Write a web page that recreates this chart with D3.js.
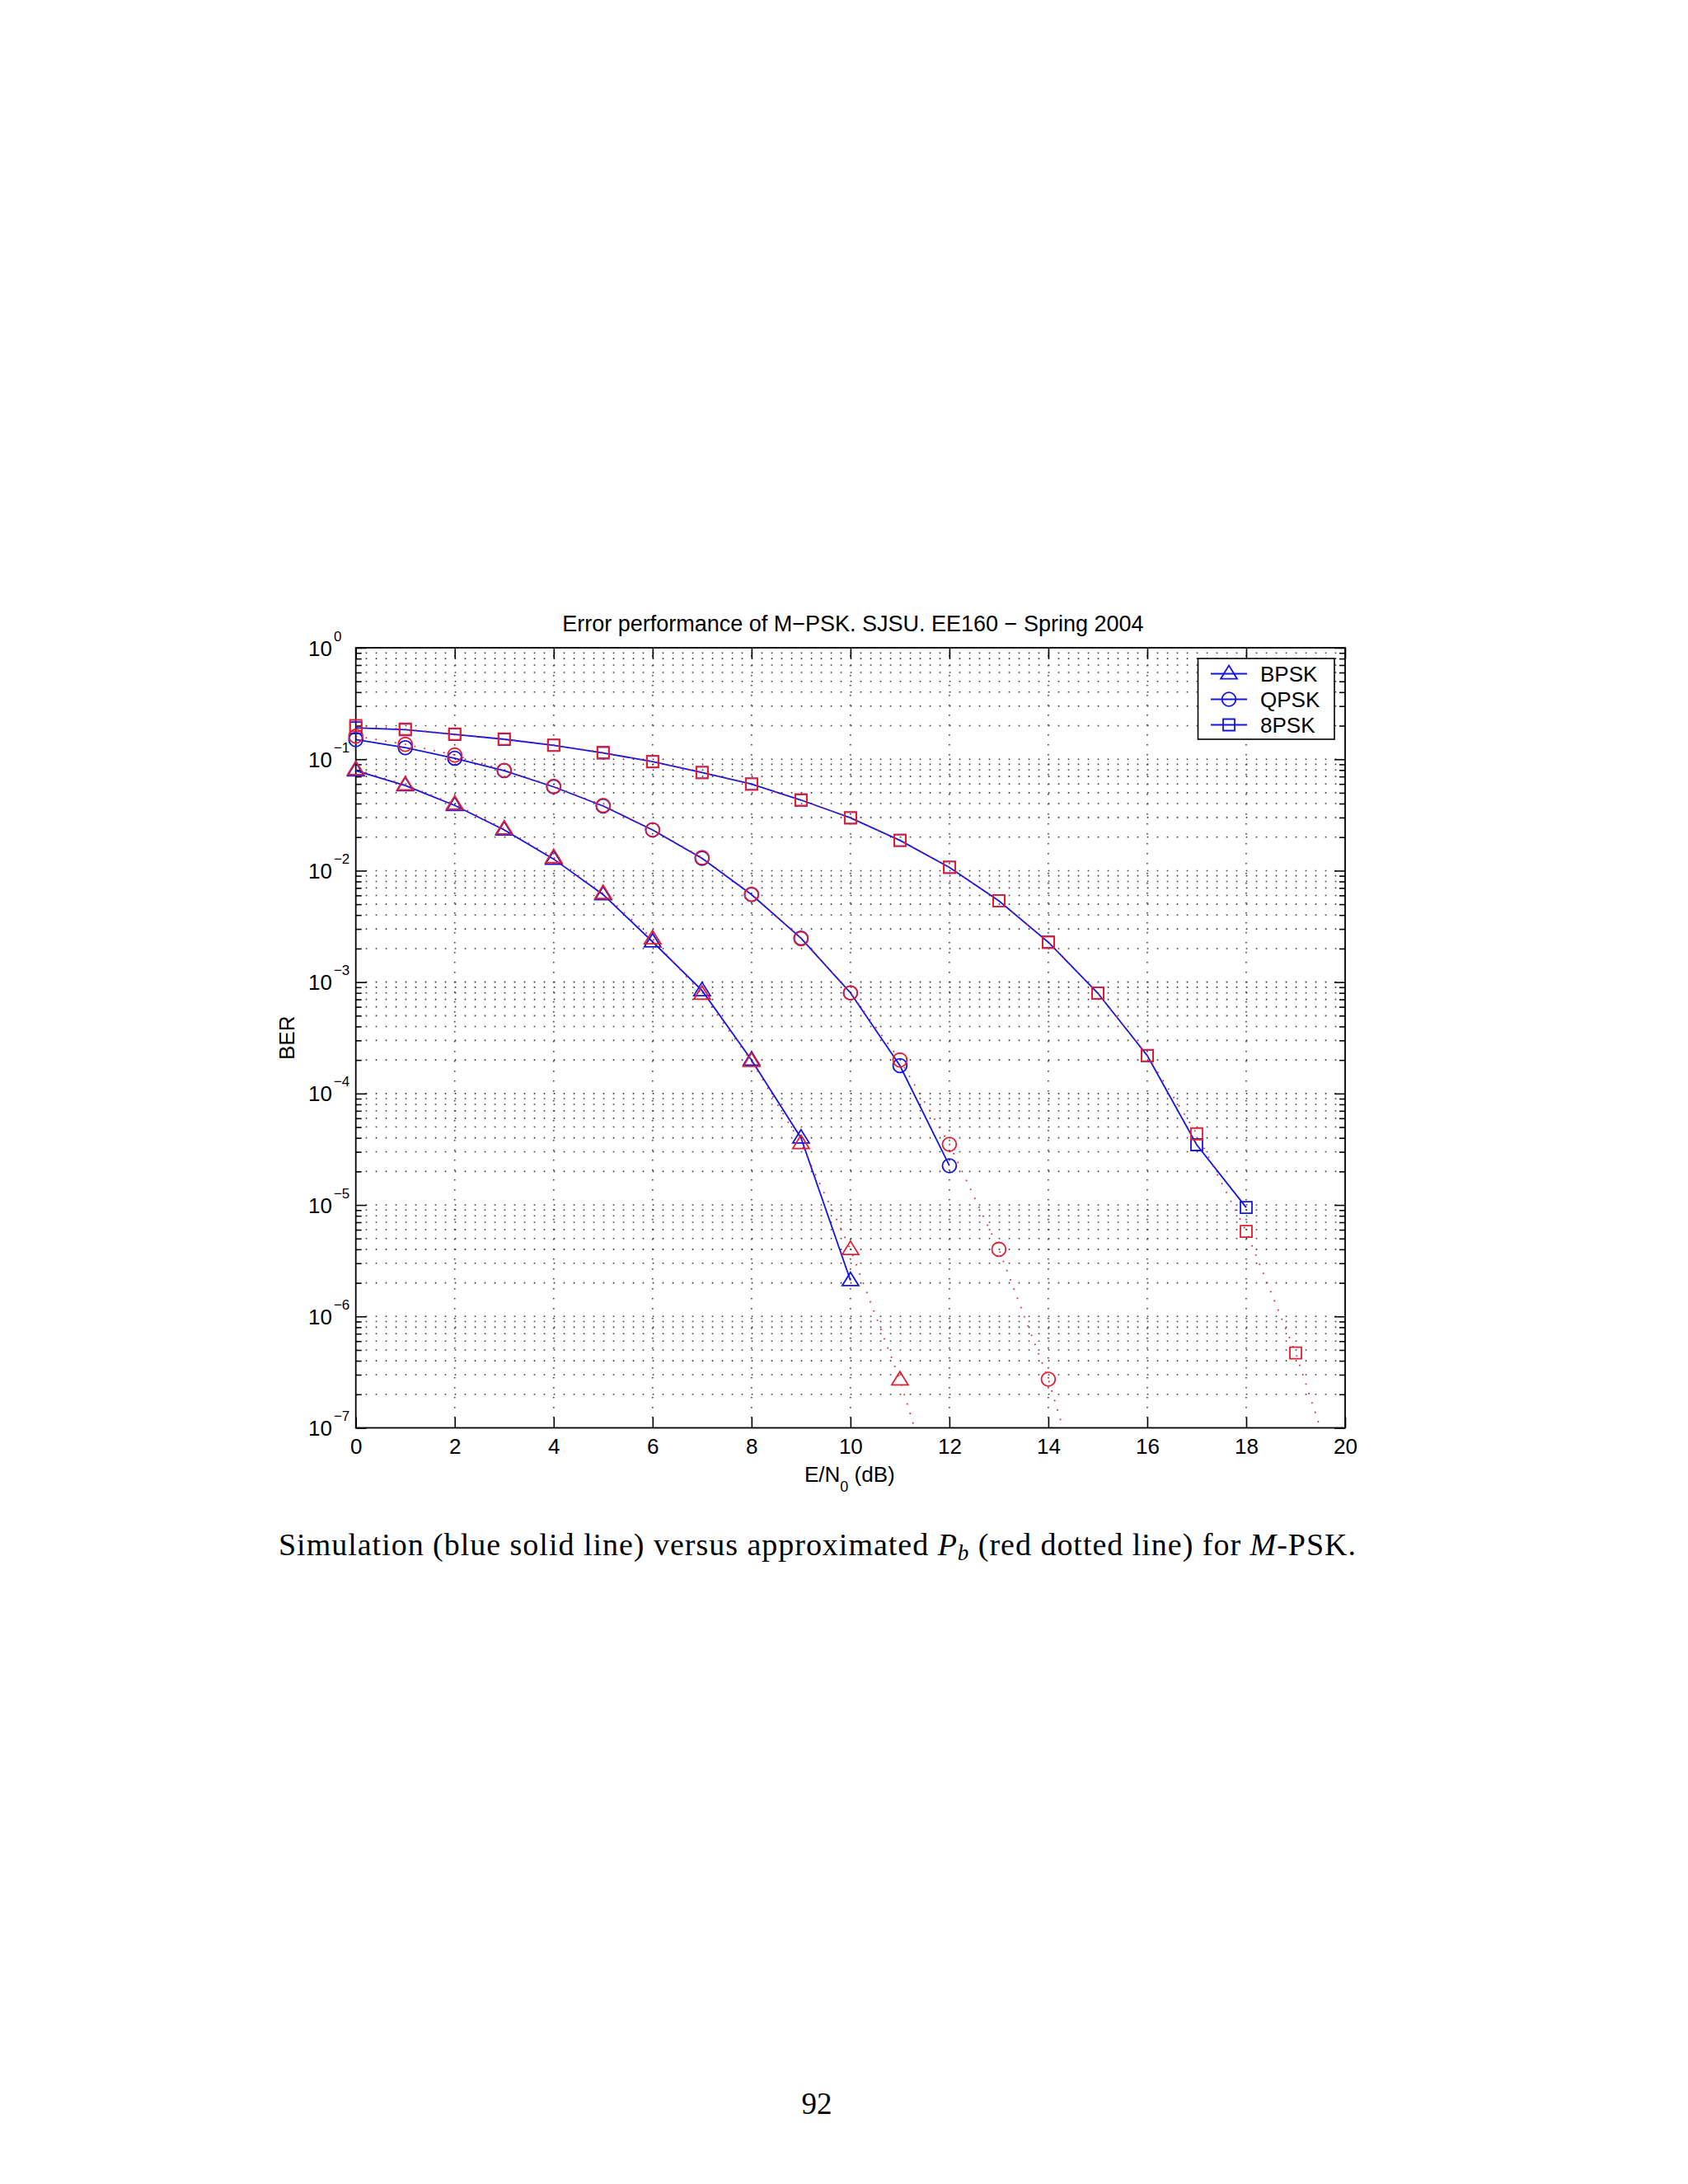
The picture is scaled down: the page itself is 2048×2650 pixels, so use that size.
<!DOCTYPE html>
<html>
<head>
<meta charset="utf-8">
<script src="https://cdn.jsdelivr.net/npm/d3@7"></script>
<style>
  body { margin: 0; background: #fff; }
  .sans { font-family: "Liberation Sans", Arial, Helvetica, sans-serif; }
  .serif { font-family: "Liberation Serif", "Times New Roman", serif; }
</style>
</head>
<body>
<svg id="chart"></svg>
<script>
// E/N0 in dB, one entry per simulated / computed point
var snrDb = [0, 1, 2, 3, 4, 5, 6, 7, 8, 9, 10, 11, 12, 13, 14, 15, 16, 17, 18, 19, 20];

// simulation (blue solid)
var bpskSim = [0.079, 0.058, 0.0385, 0.0232, 0.0127, 0.0061, 0.0023, 0.00084, 0.0002, 0.00004, 0.0000021];
var qpskSim = [0.150, 0.127, 0.102, 0.079, 0.0565, 0.038, 0.0232, 0.0129, 0.0061, 0.00248, 0.0008, 0.000178, 0.0000225];
var psk8Sim = [0.191, 0.184, 0.167, 0.151, 0.133, 0.114, 0.095, 0.076, 0.0598, 0.043, 0.0298, 0.0187, 0.0107,
               0.00536, 0.00228, 0.000796, 0.000219, 0.0000347, 0.0000095];

// approximated Pb (red dotted); last value of each series lies below the axis
var bpskApprox = [0.081, 0.0589, 0.0395, 0.0237, 0.0131, 0.00625, 0.00245, 0.00078, 0.000195, 0.0000357,
                  0.000004, 0.00000027, 0.000000009];
var qpskApprox = [0.161, 0.136, 0.109, 0.0795, 0.0572, 0.0385, 0.0233, 0.0131, 0.00615, 0.00245, 0.0008,
                  0.0002, 0.000035, 0.000004, 0.000000273, 0.000000009];
var psk8Approx = [0.200, 0.186, 0.168, 0.152, 0.134, 0.115, 0.0953, 0.076, 0.0598, 0.043, 0.0298, 0.0187,
                  0.0107, 0.00536, 0.00228, 0.000796, 0.00022, 0.0000435, 0.0000058, 0.00000047, 0.000000021];

var legendLabels = ['BPSK', 'QPSK', '8PSK'];
var xTicks = [0, 2, 4, 6, 8, 10, 12, 14, 16, 18, 20];
var yExponents = [-7, -6, -5, -4, -3, -2, -1, 0];
var yExpLabels = ['\u22127', '\u22126', '\u22125', '\u22124', '\u22123', '\u22122', '\u22121', '0'];

var blue = '#1414e0';
var red = '#e21e30';

function pairs(values) {
    return values.map(function (v, i) { return { x: snrDb[i], v: v }; });
}

/**
 * marker path for a given shape, centred on 0,0
 */
function markerPath(shape) {
    if (shape === 'triangle') return 'M0,-10L10,6.2L-10,6.2Z';
    if (shape === 'circle') return 'M8.4,0A8.4,8.4 0 1,1 -8.4,0A8.4,8.4 0 1,1 8.4,0Z';
    return 'M-7,-7H7V7H-7Z';
}

function drawChart() {
    var svgWidth = 2048, svgHeight = 2650;
    var plot = { left: 431.7, right: 1632, top: 786, bottom: 1732.5 };

    var svg = d3.select('#chart')
        .attr('width', svgWidth)
        .attr('height', svgHeight);
    svg.append('rect').attr('width', svgWidth).attr('height', svgHeight).attr('fill', '#fff');

    var x = d3.scaleLinear().domain([0, 20]).range([plot.left, plot.right]);
    var y = d3.scaleLog().domain([1e-7, 1]).range([plot.bottom, plot.top]);

    var allYTicks = y.ticks();
    var majorY = allYTicks.filter(function (v) { return Math.abs(Math.log10(v) - Math.round(Math.log10(v))) < 1e-6; });
    var minorY = allYTicks.filter(function (v) { return majorY.indexOf(v) < 0; });

    svg.append('clipPath').attr('id', 'plotclip')
        .append('rect')
        .attr('x', plot.left).attr('y', plot.top)
        .attr('width', plot.right - plot.left).attr('height', plot.bottom - plot.top);

    // dotted grid
    var grid = svg.append('g')
        .attr('stroke', '#333')
        .attr('stroke-width', 1.6)
        .attr('stroke-dasharray', '1.6,10.4');
    grid.selectAll('.hgrid')
        .data(allYTicks.filter(function (v) { return v > 1.01e-7 && v < 0.99; }))
        .enter().append('line')
        .attr('x1', plot.left + 12).attr('x2', plot.right)
        .attr('y1', function (d) { return y(d); })
        .attr('y2', function (d) { return y(d); });
    grid.selectAll('.vgrid')
        .data(xTicks.filter(function (v) { return v > 0 && v < 20; }))
        .enter().append('line')
        .attr('x1', function (d) { return x(d); })
        .attr('x2', function (d) { return x(d); })
        .attr('y1', plot.bottom - 12).attr('y2', plot.top);

    // ticks (pointing in)
    var xAxis = svg.append('g')
        .attr('class', 'sans')
        .attr('transform', 'translate(0,' + plot.bottom + ')')
        .call(d3.axisBottom(x).tickValues(xTicks).tickSizeInner(-13).tickSizeOuter(0).tickPadding(13));
    xAxis.select('.domain').remove();
    xAxis.selectAll('text').attr('font-size', 26).attr('fill', '#000');
    xAxis.selectAll('line').attr('stroke-width', 1.6);

    var xTop = svg.append('g')
        .attr('transform', 'translate(0,' + plot.top + ')')
        .call(d3.axisTop(x).tickValues(xTicks).tickSizeInner(-13).tickSizeOuter(0).tickFormat(''));
    xTop.select('.domain').remove();
    xTop.selectAll('line').attr('stroke-width', 1.6);

    [[d3.axisLeft, plot.left], [d3.axisRight, plot.right]].forEach(function (side) {
        var major = svg.append('g')
            .attr('transform', 'translate(' + side[1] + ',0)')
            .call(side[0](y).tickValues(majorY).tickSizeInner(-13).tickSizeOuter(0).tickFormat(''));
        var minor = svg.append('g')
            .attr('transform', 'translate(' + side[1] + ',0)')
            .call(side[0](y).tickValues(minorY).tickSizeInner(-7).tickSizeOuter(0).tickFormat(''));
        major.select('.domain').remove();
        minor.select('.domain').remove();
        major.selectAll('line').attr('stroke-width', 1.6);
        minor.selectAll('line').attr('stroke-width', 1.6);
    });

    // y tick labels 10^k
    var yLab = svg.append('g').attr('class', 'sans').attr('fill', '#000');
    yExponents.forEach(function (e, i) {
        var t = yLab.append('text')
            .attr('x', 374)
            .attr('y', y(Math.pow(10, e)) + 9.5)
            .attr('font-size', 26);
        t.append('tspan').text('10');
        t.append('tspan').attr('font-size', 17).attr('dx', 2).attr('dy', -18).text(yExpLabels[i]);
    });

    // frame
    svg.append('rect')
        .attr('x', plot.left).attr('y', plot.top)
        .attr('width', plot.right - plot.left).attr('height', plot.bottom - plot.top)
        .attr('fill', 'none').attr('stroke', '#000').attr('stroke-width', 1.8);

    var line = d3.line()
        .x(function (d) { return x(d.x); })
        .y(function (d) { return y(d.v); });

    var series = [
        { sim: bpskSim, approx: bpskApprox, shape: 'triangle' },
        { sim: qpskSim, approx: qpskApprox, shape: 'circle' },
        { sim: psk8Sim, approx: psk8Approx, shape: 'square' }
    ];

    function inside(d) { return d.v >= 1e-7 && d.x <= 20; }

    // simulation curves
    series.forEach(function (s) {
        var data = pairs(s.sim);
        svg.append('path')
            .datum(data)
            .attr('clip-path', 'url(#plotclip)')
            .attr('fill', 'none')
            .attr('stroke', blue)
            .attr('stroke-width', 1.8)
            .attr('d', line);
        svg.append('g').selectAll('path')
            .data(data.filter(inside))
            .enter().append('path')
            .attr('transform', function (d) { return 'translate(' + x(d.x) + ',' + y(d.v) + ')'; })
            .attr('d', markerPath(s.shape))
            .attr('fill', 'none')
            .attr('stroke', blue)
            .attr('stroke-width', 1.8);
    });

    // approximation curves
    series.forEach(function (s) {
        var data = pairs(s.approx);
        svg.append('path')
            .datum(data)
            .attr('clip-path', 'url(#plotclip)')
            .attr('fill', 'none')
            .attr('stroke', red)
            .attr('stroke-width', 1.7)
            .attr('stroke-dasharray', '1.7,10.3')
            .attr('d', line);
        svg.append('g').selectAll('path')
            .data(data.filter(inside))
            .enter().append('path')
            .attr('transform', function (d) { return 'translate(' + x(d.x) + ',' + y(d.v) + ')'; })
            .attr('d', markerPath(s.shape))
            .attr('fill', 'none')
            .attr('stroke', red)
            .attr('stroke-width', 1.8);
    });

    // legend
    var legend = svg.append('g').attr('class', 'sans');
    legend.append('rect')
        .attr('x', 1453.5).attr('y', 799)
        .attr('width', 165.5).attr('height', 98)
        .attr('fill', '#fff').attr('stroke', '#000').attr('stroke-width', 1.6);
    legendLabels.forEach(function (label, i) {
        var ly = 817.5 + i * 31;
        legend.append('line')
            .attr('x1', 1469).attr('x2', 1513)
            .attr('y1', ly).attr('y2', ly)
            .attr('stroke', blue).attr('stroke-width', 1.8);
        legend.append('path')
            .attr('transform', 'translate(1491,' + ly + ')')
            .attr('d', markerPath(series[i].shape))
            .attr('fill', 'none').attr('stroke', blue).attr('stroke-width', 1.8);
        legend.append('text')
            .attr('x', 1529).attr('y', ly + 9.5)
            .attr('font-size', 26)
            .text(label);
    });

    // titles
    svg.append('text')
        .attr('class', 'sans')
        .attr('x', (plot.left + plot.right) / 2 + 3)
        .attr('y', 766)
        .attr('text-anchor', 'middle')
        .attr('font-size', 27)
        .text('Error performance of M\u2212PSK. SJSU. EE160 \u2212 Spring 2004');

    var xl = svg.append('text')
        .attr('class', 'sans')
        .attr('x', 976)
        .attr('y', 1798)
        .attr('font-size', 26);
    xl.append('tspan').text('E/N');
    xl.append('tspan').attr('font-size', 18).attr('dy', 12).text('0');
    xl.append('tspan').attr('dy', -12).text(' (dB)');

    svg.append('text')
        .attr('class', 'sans')
        .attr('transform', 'translate(357,' + (plot.top + plot.bottom) / 2 + ') rotate(-90)')
        .attr('text-anchor', 'middle')
        .attr('font-size', 26)
        .text('BER');

    // caption under the figure
    var cap = svg.append('text')
        .attr('class', 'serif')
        .attr('x', 338)
        .attr('y', 1887)
        .attr('font-size', 38)
        .attr('textLength', 1307)
        .attr('lengthAdjust', 'spacing');
    cap.append('tspan').text('Simulation (blue solid line) versus approximated ');
    cap.append('tspan').attr('font-style', 'italic').text('P');
    cap.append('tspan').attr('font-style', 'italic').attr('font-size', 27).attr('dy', 6).text('b');
    cap.append('tspan').attr('dy', -6).text(' (red dotted line) for ');
    cap.append('tspan').attr('font-style', 'italic').text('M');
    cap.append('tspan').text('-PSK.');

    svg.append('text')
        .attr('class', 'serif')
        .attr('x', 991)
        .attr('y', 2565)
        .attr('text-anchor', 'middle')
        .attr('font-size', 37)
        .text('92');
}

document.addEventListener('DOMContentLoaded', drawChart);
</script>
</body>
</html>
